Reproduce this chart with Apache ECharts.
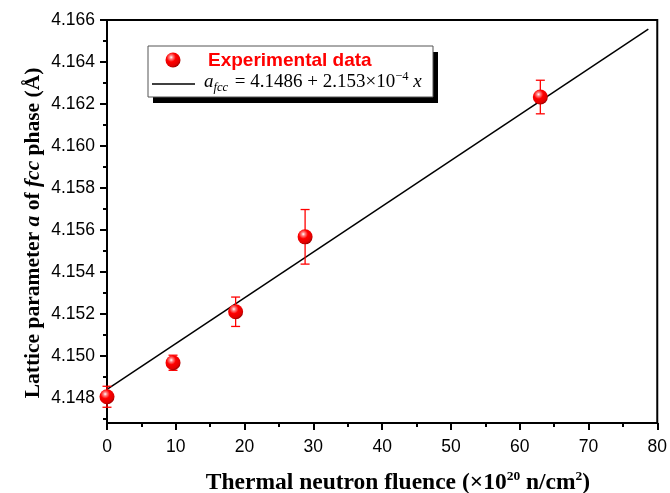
<!DOCTYPE html>
<html>
<head>
<meta charset="utf-8">
<script src="https://cdn.jsdelivr.net/npm/echarts@6/dist/echarts.min.js"></script>
<style>html,body{margin:0;padding:0;background:#fff}#c{width:670px;height:493px}</style>
</head>
<body>
<div id="c"></div>
<script>
// ---- data ----
const fluence = [0, 9.6, 18.7, 28.8, 63.0];
const latticeA = [4.14805, 4.14967, 4.1521, 4.15567, 4.16233];
const latticeErr = [0.0005, 0.00036, 0.0007, 0.0013, 0.0008];
const fitX = [0, 78.7];
const fitY = [4.1484, 4.16557];
const yMajorTicks = [4.148, 4.150, 4.152, 4.154, 4.156, 4.158, 4.160, 4.162, 4.164, 4.166];
const yMinorTicks = [4.147, 4.149, 4.151, 4.153, 4.155, 4.157, 4.159, 4.161, 4.163, 4.165];

const chart = echarts.init(document.getElementById('c'), null, {renderer: 'canvas'});
const ballGrad = () => new echarts.graphic.RadialGradient(0.38, 0.32, 0.68, [
  {offset: 0, color: '#ffffff'},
  {offset: 0.18, color: '#ff8080'},
  {offset: 0.45, color: '#ff0000'},
  {offset: 0.85, color: '#e00000'},
  {offset: 1, color: '#a00000'}
]);
const gridPos = {left: 107, top: 20, right: 11, bottom: 70};
const tickFont = {fontFamily: 'Liberation Sans, Arial, sans-serif', fontSize: 17.5, color: '#000'};
const serif = 'Liberation Serif, Times New Roman, serif';

const option = {
  animation: false,
  grid: [
    Object.assign({show: true, borderColor: '#000', borderWidth: 2, containLabel: false}, gridPos),
    Object.assign({show: false, containLabel: false}, gridPos)
  ],
  xAxis: [
    {
      type: 'value', gridIndex: 0, min: 0, max: 80, interval: 10,
      axisLine: {show: true, onZero: false, lineStyle: {color: '#000', width: 2}},
      axisTick: {show: true, inside: false, length: 7, lineStyle: {color: '#000', width: 2}},
      minorTick: {show: true, splitNumber: 2, length: 4, lineStyle: {color: '#000', width: 2}},
      splitLine: {show: false},
      axisLabel: Object.assign({margin: 15}, tickFont)
    },
    {type: 'value', gridIndex: 1, min: 0, max: 80, show: false}
  ],
  yAxis: [
    {
      type: 'value', gridIndex: 0, min: 4.1468, max: 4.166,
      axisLine: {show: true, onZero: false, lineStyle: {color: '#000', width: 2}},
      axisTick: {show: true, inside: false, length: 7, customValues: yMajorTicks, lineStyle: {color: '#000', width: 2}},
      splitLine: {show: false},
      axisLabel: Object.assign({margin: 12, customValues: yMajorTicks, formatter: v => v.toFixed(3)}, tickFont)
    },
    {
      type: 'value', gridIndex: 1, min: 4.1468, max: 4.166, position: 'left',
      axisLine: {show: false},
      axisTick: {show: true, inside: false, length: 4, customValues: yMinorTicks, lineStyle: {color: '#000', width: 2}},
      axisLabel: {show: false},
      splitLine: {show: false}
    }
  ],
  series: [
    {
      type: 'line', xAxisIndex: 0, yAxisIndex: 0, z: 2,
      data: fitX.map((x, i) => [x, fitY[i]]),
      symbol: 'none', lineStyle: {color: '#000', width: 1.5}
    },
    {
      type: 'custom', xAxisIndex: 0, yAxisIndex: 0, z: 3,
      data: fluence.map((x, i) => [x, latticeA[i] - latticeErr[i], latticeA[i] + latticeErr[i]]),
      renderItem: function (params, api) {
        const x = api.value(0);
        const lo = api.coord([x, api.value(1)]);
        const hi = api.coord([x, api.value(2)]);
        const hw = 4.5;
        const st = {stroke: '#ff0000', lineWidth: 1.3};
        return {type: 'group', children: [
          {type: 'line', shape: {x1: lo[0], y1: lo[1], x2: hi[0], y2: hi[1]}, style: st},
          {type: 'line', shape: {x1: lo[0] - hw, y1: lo[1], x2: lo[0] + hw, y2: lo[1]}, style: st},
          {type: 'line', shape: {x1: hi[0] - hw, y1: hi[1], x2: hi[0] + hw, y2: hi[1]}, style: st}
        ]};
      }
    },
    {
      type: 'scatter', xAxisIndex: 0, yAxisIndex: 0, z: 4,
      data: fluence.map((x, i) => [x, latticeA[i]]),
      symbol: 'circle', symbolSize: 15,
      itemStyle: {color: ballGrad(), opacity: 1}
    }
  ],
  graphic: [
    {type: 'rect', shape: {x: 153, y: 52, width: 285, height: 51}, style: {fill: '#000'}, z: 10},
    {type: 'rect', shape: {x: 148, y: 46, width: 285, height: 51}, style: {fill: '#fff', stroke: '#555', lineWidth: 1}, z: 11},
    {type: 'circle', shape: {cx: 173, cy: 60, r: 7.5}, style: {fill: ballGrad()}, z: 12},
    {type: 'line', shape: {x1: 152, y1: 84, x2: 195, y2: 84}, style: {stroke: '#000', lineWidth: 1.5}, z: 12},
    {type: 'text', x: 208, y: 61, z: 12, style: {
      text: 'Experimental data', fill: '#ff0000',
      font: 'bold 19px "Liberation Sans", Arial, sans-serif', verticalAlign: 'middle', align: 'left'}},
    {type: 'text', x: 204, y: 82, z: 12, style: {
      text: '{i|a}{sub|fcc}{n| = 4.1486 + 2.153×10}{sup|−4}{i| x}',
      verticalAlign: 'middle', align: 'left',
      rich: {
        i: {fontFamily: serif, fontStyle: 'italic', fontSize: 19, fill: '#000', lineHeight: 24},
        n: {fontFamily: serif, fontSize: 19, fill: '#000', lineHeight: 24},
        sub: {fontFamily: serif, fontStyle: 'italic', fontSize: 12.5, fill: '#000', verticalAlign: 'bottom', padding: [10, 2, 0, 0]},
        sup: {fontFamily: serif, fontSize: 12.5, fill: '#000', verticalAlign: 'top', padding: [0, 0, 10, 0]}
      }}},
    {type: 'text', x: 33, y: 233, rotation: Math.PI / 2, z: 12, style: {
      text: '{b|Lattice parameter }{bi|a}{b| of }{bi|fcc}{b| phase (Å)}',
      align: 'center', verticalAlign: 'middle',
      rich: {
        b: {fontFamily: serif, fontWeight: 'bold', fontSize: 21.5, fill: '#000'},
        bi: {fontFamily: serif, fontWeight: 'bold', fontStyle: 'italic', fontSize: 21.5, fill: '#000'}
      }}},
    {type: 'text', x: 398, y: 483, z: 12, style: {
      text: '{b|Thermal neutron fluence (×10}{s|20}{b| n/cm}{s|2}{b|)}',
      align: 'center', verticalAlign: 'middle',
      rich: {
        b: {fontFamily: serif, fontWeight: 'bold', fontSize: 23.5, fill: '#000', lineHeight: 27},
        s: {fontFamily: serif, fontWeight: 'bold', fontSize: 13.5, fill: '#000', verticalAlign: 'top', padding: [0, 0, 10, 0]}
      }}}
  ]
};
chart.setOption(option);
</script>
</body>
</html>
